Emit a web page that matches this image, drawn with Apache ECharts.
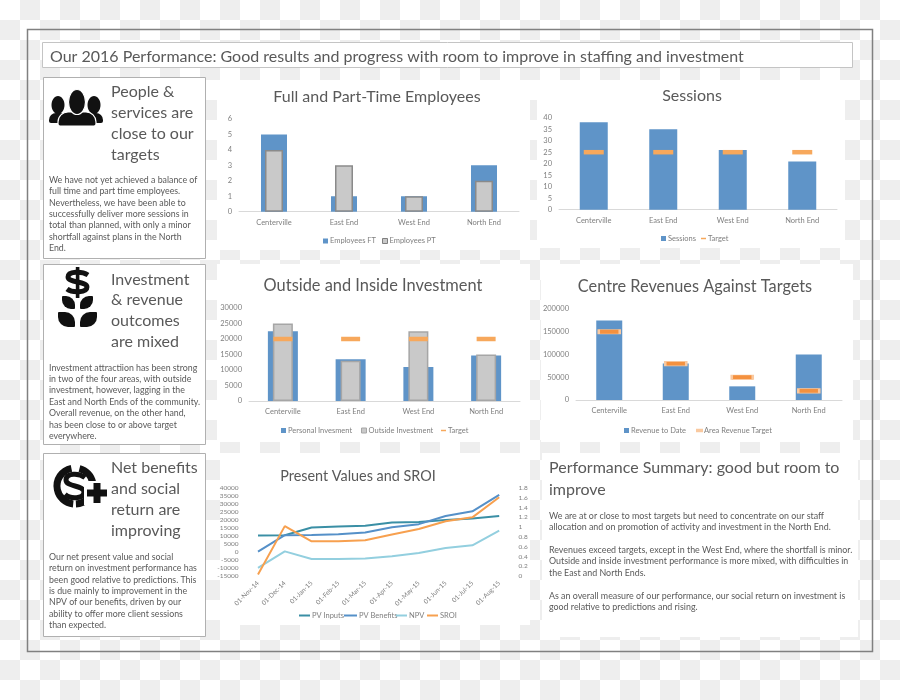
<!DOCTYPE html>
<html>
<head>
<meta charset="utf-8">
<style>
html,body{margin:0;padding:0;width:900px;height:700px;overflow:hidden;
background:conic-gradient(#eeeeee 25%,#ffffff 0 50%,#eeeeee 0 75%,#ffffff 0) 0 0/40px 40px;}
#c{width:900px;height:700px;}
</style>
<script src="https://cdn.jsdelivr.net/npm/echarts@6/dist/echarts.min.js"></script>
</head>
<body>
<div id="c"></div>
<script>
// ---- data ----
const areas = ['Centerville','East End','West End','North End'];
const employeesFT = [5,1,1,3];
const employeesPT = [4,3,1,2];
const sessions = [38,35,26,21];
const sessionTarget = [25,25,25,25];
const personalInvestment = [22500,13500,11000,14700];
const outsideInvestment = [25000,13000,22500,15000];
const investmentTarget = [20000,20000,20000,20000];
const revenue = [175000,80000,30000,100000];
const revenueTarget = [150000,80000,50000,20000];
const months = ['01-Nov-14','01-Dec-14','01-Jan-15','01-Feb-15','01-Mar-15','01-Apr-15','01-May-15','01-Jun-15','01-Jul-15','01-Aug-15'];
const pvInputs = [10300,10500,15300,16000,16400,18500,18700,20000,21000,22500];
const pvBenefits = [200,10500,10700,11100,12200,15500,17400,22500,25400,35700];
const npv = [-9900,400,-4400,-4400,-4000,-2700,-600,2500,4200,13400];
const sroi = [0.03,1.02,0.71,0.71,0.73,0.85,0.96,1.12,1.2,1.61];

const pageTitle = 'Our 2016 Performance: Good results and progress with room to improve in staffing and investment';
const head1 = ['People &','services are','close to our','targets'];
const body1 = ['We have not yet achieved a balance of','full time and part time employees.','Nevertheless, we have been able to','successfully deliver more sessions in','total than planned, with only a minor','shortfall against plans in the North','End.'];
const head2 = ['Investment','& revenue','outcomes','are mixed'];
const body2 = ['Investment attractiion has been strong','in two of the four areas, with outside','investment, however, lagging in the','East and North Ends of the community.','Overall revenue, on the other hand,','has been close to or above target','everywhere.'];
const head3 = ['Net benefits','and social','return are','improving'];
const body3 = ['Our net present value and social','return on investment performance has','been good relative to predictions. This','is due mainly to improvement in the','NPV of our benefits, driven by our','ability to offer more client sessions','than expected.'];
const summaryHead = ['Performance Summary: good but room to','improve'];
const summaryBody = ['We are at or close to most targets but need to concentrate on our staff','allocation and on promotion of activity and investment in the North End.','','Revenues exceed targets, except in the West End, where the shortfall is minor.','Outside and inside investment performance is more mixed, with difficulties in','the East and North Ends.','','As an overall measure of our performance, our social return on investment is','good relative to predictions and rising.'];

// ---- style ----
const FONT = 'Lato, "Open Sans", sans-serif';
const TXT = '#595959', AX = '#7f7f7f';
const BLUE = '#5f94c8', GRAY = '#c9c9c9', ORANGE = '#f7a85c';

// ---- helpers ----
const el = [];
const rect = (x,y,w,h,fill,stroke,extra) => el.push(Object.assign({type:'rect',shape:{x,y,width:w,height:h},style:{fill,stroke:stroke||null,lineWidth:stroke?1:0},z:-5,silent:true},extra||{}));
const lines = (arr,x,y,lh,size,color) => arr.forEach((t,i)=>{ if(t) el.push({type:'text',z:5,silent:true,style:{text:t,x,y:y+i*lh,font:size+'px '+FONT,fill:color||TXT,textVerticalAlign:'middle'}}); });
const black = {fill:'#111'};

// panels
[[217,80,313,170],[537,80,308,168],[217,264,313,178],[541,264,312,178],[220,453,310,172],[542,453,316,184]].forEach(p=>rect(p[0],p[1],p[2],p[3],'#fff'));
// outer frame, title box and left boxes
rect(27.5,29.5,845,622,null,'#808080',{z:-4,style:{fill:null,stroke:'#808080',lineWidth:1.5}});
rect(42.5,42.5,810,25,'#fff','#c4c4c4');
rect(43.5,77.5,162,181,'#fff','#b0b0b0');
rect(43.5,264.5,162,180,'#fff','#b0b0b0');
rect(43.5,453.5,162,183,'#fff','#b0b0b0');

lines([pageTitle],50,57,0,16);
lines(head1,111,92,20.8,16);   lines(body1,49,180,11.4,8.8);
lines(head2,111,279.5,20.8,16);lines(body2,49,367.7,11.4,8.8);
lines(head3,111,468,21,16);    lines(body3,49,557,11.4,8.8);
lines(summaryHead,549,468,22,16);
lines(summaryBody,549,516,11.4,8.9);

// icons
const E=(cx,cy,rx,ry,style,z)=>el.push({type:'ellipse',z:z||4,silent:true,shape:{cx,cy,rx,ry},style});
const R=(x,y,w,h,r,style,z)=>el.push({type:'rect',z:z||4,silent:true,shape:{x,y,width:w,height:h,r},style});
const S=(x,y,w,h,lw)=>{
  const p=(a,b)=>[x+a*w/100,y+b*h/100];
  [[[100,15],[70,-5],[5,-5],[5,25]],[[5,25],[5,55],[95,45],[95,75]],[[95,75],[95,105],[25,105],[0,85]]].forEach(s=>{
    const a=p(...s[0]),b=p(...s[1]),c=p(...s[2]),d=p(...s[3]);
    el.push({type:'bezierCurve',z:4,silent:true,shape:{x1:a[0],y1:a[1],cpx1:b[0],cpy1:b[1],cpx2:c[0],cpy2:c[1],x2:d[0],y2:d[1]},style:{fill:null,stroke:'#111',lineWidth:lw}});
  });
};
// people
E(58,105,6.5,9,black); R(49,113,18,10,[7,7,2,2],black);
E(94,105,6.5,9,black); R(85,113,18,10,[7,7,2,2],black);
const outline={fill:'#111',stroke:'#fff',lineWidth:1.2};
R(58,112,38,14,[10,10,2,2],outline); E(77,102,8.5,12.5,outline);
// dollar plant
S(67,272,21,20,5);
R(75.8,267,3.6,31,0,black);
R(62,296,13,13,[1,9,1,9],black); R(80,296,13,13,[9,1,9,1],black);
R(58,312,17,15,[1,10,1,10],black); R(80,312,17,15,[10,1,10,1],black);
// S+ ring
[[1.5*Math.PI-0.2,0.5*Math.PI+0.1,false],[1.5*Math.PI+0.25,2*Math.PI-0.2,true],[0.25*Math.PI,0.5*Math.PI-0.05,true]].forEach(a=>{
  el.push({type:'arc',z:4,silent:true,shape:{cx:75,cy:486,r:18,startAngle:a[0],endAngle:a[1],clockwise:a[2]},style:{fill:null,stroke:'#111',lineWidth:7}});
});
S(65,474,20,24,5);
R(84,481,25,24,0,{fill:'#fff'},4);
R(87,489.5,20,7,0,black,4); R(93.5,483,7,20,0,black,4);

// legends: each entry is a single-item component
const legends=[];
const LG=(name,x,y,color,w,h,extra)=>legends.push({data:[{name,icon:'rect',itemStyle:Object.assign({color,opacity:1},extra||{})}],
  left:x,top:y-4.5,padding:0,itemWidth:w,itemHeight:h,selectedMode:false,
  textStyle:{fontFamily:FONT,fontSize:7.5,color:AX,padding:[0,0,0,-3]}});
LG('Employees FT',323,241.5,BLUE,5,5);
LG('Employees PT',382,241.5,GRAY,5,5,{borderColor:'#7f7f7f',borderWidth:1});
LG('Sessions',661,239,BLUE,5,5);
LG('Target',701,239,ORANGE,5,1.5);
LG('Personal Invesment',281,431,BLUE,5,5);
LG('Outside Investment',361,431,GRAY,5,5,{borderColor:'#a6a6a6',borderWidth:1});
LG('Target',441,431,ORANGE,5,1.5);
LG('Revenue to Date',624,431,BLUE,5,5);
LG('Area Revenue Target',696,431,'#d9534f',5,1.5);
const C1='#3a8fa5',C2='#5590c8',C3='#93cfdf',C4='#f7a04f';
LG('PV Inputs',299,616,C1,11,2);
LG('PV Benefits',344,616,C2,13,2);
LG('NPV',396,616,C3,11,2);
LG('SROI',427,616,C4,11,2);

// axes
const plain=v=>String(v);
const labelC={color:AX,fontFamily:FONT,fontSize:7.5};
const xA=(i,hidden)=>({type:'category',gridIndex:i,data:areas,show:!hidden,axisTick:{show:false},
  axisLine:{lineStyle:{color:'#d9d9d9'}},axisLabel:Object.assign({margin:7,interval:0},labelC)});
const yA=(i,max,step)=>({type:'value',gridIndex:i,min:0,max,interval:step,splitLine:{show:false},axisLine:{show:false},axisTick:{show:false},axisLabel:Object.assign({margin:7,formatter:plain},labelC)});
const bar=(name,data,xi,yi,w,color,z,border)=>({name,type:'bar',data,xAxisIndex:xi,yAxisIndex:yi,barWidth:w,z,itemStyle:Object.assign({color},border?{borderColor:border,borderWidth:1.5}:{})});
const mark=(name,data,xi,yi,w,color,extra)=>({name,type:'line',data,xAxisIndex:xi,yAxisIndex:yi,z:6,symbol:'rect',symbolSize:[w,4.5],showSymbol:true,lineStyle:{width:0,opacity:0},itemStyle:Object.assign({color},extra||{})});
const ln=(name,data,yi,color,extra)=>Object.assign({name,type:'line',data,xAxisIndex:6,yAxisIndex:yi,z:5,symbol:'none',lineStyle:{width:2,color},itemStyle:{color}},extra||{});

const grid=[
 {left:239,right:900-519,top:119,height:92.7},
 {left:559,right:900-837,top:117.7,height:92},
 {left:249,right:900-520,top:308,height:93},
 {left:576,right:900-842,top:309,height:91},
 {left:244.6,right:900-512.6,top:488,height:88}
];
const tt=(text,x,y,size)=>({text,left:x,top:y,textAlign:'center',textVerticalAlign:'middle',padding:0,textStyle:{fontFamily:FONT,fontWeight:'normal',fontSize:size,color:TXT}});

const option={
  animation:false,
  backgroundColor:'transparent',
  title:[
    tt('Full and Part-Time Employees',377,97,16),
    tt('Sessions',692,96,16),
    tt('Outside and Inside Investment',373,286,16.4),
    tt('Centre Revenues Against Targets',695,286.5,16.3),
    tt('Present Values and SROI',358,476,14.4)
  ],
  grid,
  graphic:{elements:el},
  legend:legends,
  xAxis:[xA(0),xA(0,true),xA(1),xA(2),xA(2,true),xA(3),
    {type:'category',gridIndex:4,data:months,position:'bottom',axisLine:{show:false,onZero:false},axisTick:{show:false},
     axisLabel:Object.assign({},labelC,{rotate:45,margin:6,interval:0,fontSize:6.5})}],
  yAxis:[yA(0,6,1),yA(1,40,5),yA(2,30000,5000),yA(3,200000,50000),
    {type:'value',gridIndex:4,min:-15000,max:40000,interval:5000,splitLine:{show:false},axisLine:{show:false,onZero:false},axisTick:{show:false},axisLabel:Object.assign({},labelC,{margin:6,fontSize:6.5,formatter:plain})},
    {type:'value',gridIndex:4,position:'right',min:0,max:1.8,interval:0.2,splitLine:{show:false},axisLine:{show:false},axisTick:{show:false},axisLabel:Object.assign({},labelC,{margin:6,fontSize:6.5,formatter:plain})}],
  series:[
    bar('Employees FT',employeesFT,0,0,26,BLUE,2),
    bar('Employees PT',employeesPT,1,0,18,GRAY,3,'#8a8a8a'),
    bar('Sessions',sessions,2,1,28,BLUE,2),
    mark('Target',sessionTarget,2,1,20,ORANGE),
    bar('Personal Invesment',personalInvestment,3,2,30,BLUE,2),
    bar('Outside Investment',outsideInvestment,4,2,20,GRAY,3,'#a6a6a6'),
    mark('Target',investmentTarget,3,2,19,ORANGE),
    bar('Revenue to Date',revenue,5,3,26,BLUE,2),
    mark('Area Revenue Target',revenueTarget,5,3,21,'#f4913f',{borderColor:'#f9c9a0',borderWidth:1.2}),
    ln('PV Inputs',pvInputs,4,C1),
    ln('PV Benefits',pvBenefits,4,C2),
    ln('NPV',npv,4,C3),
    ln('SROI',sroi,5,C4,{label:{show:true,formatter:p=>p.dataIndex===9?'1.6':'',position:'bottom',offset:[7,4],color:TXT,fontFamily:FONT,fontSize:7.5}})
  ]
};
echarts.init(document.getElementById('c'),null,{renderer:'canvas'}).setOption(option);
</script>
</body>
</html>
